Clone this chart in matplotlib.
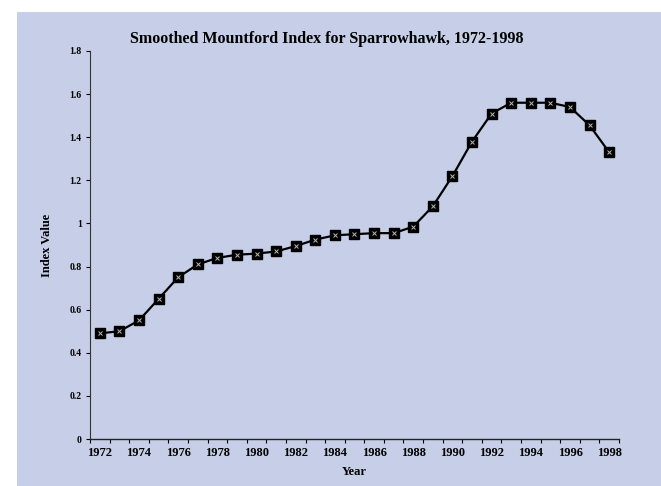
import numpy as np
import matplotlib
matplotlib.use('Agg')
from matplotlib import pyplot as plt
from matplotlib.patches import Rectangle

years = list(range(1972, 1999))
index_value = [0.49, 0.50, 0.55, 0.65, 0.75, 0.81, 0.84, 0.855, 0.86, 0.87,
               0.895, 0.925, 0.945, 0.95, 0.955, 0.955, 0.985, 1.08, 1.22, 1.38,
               1.51, 1.56, 1.56, 1.56, 1.54, 1.455, 1.33]
y_ticks = [0, 0.2, 0.4, 0.6, 0.8, 1, 1.2, 1.4, 1.6, 1.8]
y_labels = ['0', '0.2', '0.4', '0.6', '0.8', '1', '1.2', '1.4', '1.6', '1.8']

bg = '#c6cfe7'
plt.rcParams['font.family'] = ['Liberation Serif', 'DejaVu Serif']

fig = plt.figure(figsize=(6.61, 4.86), dpi=100, facecolor='white')
# blue chart area (white margin top and left)
fig.patches.append(Rectangle((17/661, 0), 1, 1 - 12/486, transform=fig.transFigure,
                             facecolor=bg, edgecolor='none', zorder=-10))

ax = fig.add_axes([90/661, 47/486, 529/661, 388/486])
ax.set_facecolor(bg)

ax.plot(years, index_value, color='black', lw=1.6, marker='s', ms=7.5,
        mfc='black', mec='black', zorder=3)
ax.plot(years, index_value, ls='none', marker='x', ms=3.5, mew=0.7,
        color='#b8b8b8', zorder=4) #dotted look inside the squares

ax.set_xlim(1971.5, 1998.5)
ax.set_ylim(0, 1.8)
ax.set_yticks(y_ticks)
ax.set_yticklabels(y_labels, fontsize=7, fontweight='bold')
ax.set_xticks(years[::2])
ax.set_xticklabels([str(y) for y in years[::2]], fontsize=9, fontweight='bold')
ax.tick_params(axis='x', length=0, pad=6)
ax.set_xticks(np.arange(1971.5, 1999, 1), minor=True)
ax.tick_params(axis='x', which='minor', length=3, direction='out', width=0.8)
ax.tick_params(axis='y', length=3, direction='out', width=0.8, pad=3)

for s in ['top', 'right']:
    ax.spines[s].set_visible(False)
ax.spines['left'].set_color('#333333')
ax.spines['bottom'].set_color('#222222')
ax.spines['left'].set_linewidth(0.8)
ax.spines['bottom'].set_linewidth(1.0)

fig.text(327/661, 1 - 39/486, 'Smoothed Mountford Index for Sparrowhawk, 1972-1998',
         fontsize=11.5, fontweight='bold', ha='center', va='center')
ax.set_xlabel('Year', fontsize=9, fontweight='bold', labelpad=5)
ax.set_ylabel('Index Value', fontsize=9, fontweight='bold', labelpad=12)

fig.savefig('out.png', dpi=100, facecolor='white')
